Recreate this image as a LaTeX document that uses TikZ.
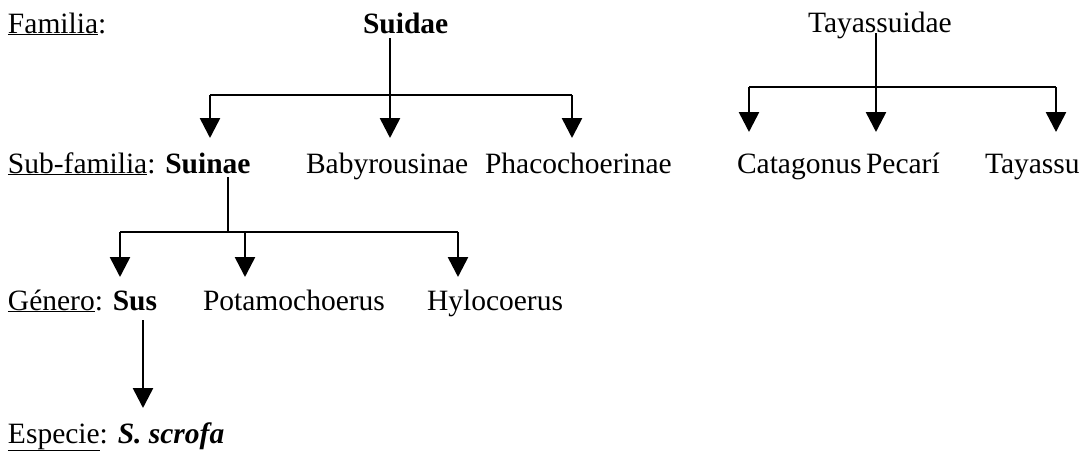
\documentclass[tikz,border=0pt]{standalone}
\usepackage{fontspec}
\setmainfont{Liberation Serif}
\usetikzlibrary{arrows.meta}
\begin{document}
\begin{tikzpicture}[x=1pt,y=-1pt,
  lbl/.style={anchor=base west,inner sep=0pt,outer sep=0pt,font=\fontsize{29.5}{35}\selectfont},
  conn/.style={line width=2.6pt,line cap=butt,line join=miter},
  arr/.style={conn,-{Triangle[width=20pt,length=20pt]}}]
\useasboundingbox (0,0) rectangle (1091,455);
% Row 1
\node[lbl] (familia) at (8,33) {\underline{Familia}:};
\node[lbl] (suidae) at (363,33) {\textbf{Suidae}};
\node[lbl] (tayassuidae) at (808,32) {Tayassuidae};
% Row 2
\node[lbl] (subfam) at (8,173) {\underline{Sub-familia}: \textbf{Suinae}};
\node[lbl] (baby) at (306,173) {Babyrousinae};
\node[lbl] (phaco) at (485,173) {Phacochoerinae};
\node[lbl] (cata) at (737,173) {Catagonus};
\node[lbl] (pecari) at (866,173) {Pecarí};
\node[lbl] (taya) at (985,173) {Tayassu};
% Row 3
\node[lbl] (genero) at (8,310) {\underline{Género}: \textbf{Sus}};
\node[lbl] (potamo) at (203,310) {Potamochoerus};
\node[lbl] (hylo) at (427,310) {Hylocoerus};
% Row 4
\node[lbl] (especie) at (8,443) {\underline{Especie}: \textbf{\textit{S. scrofa}}};
% junctions
\coordinate (s0) at (390,38);
\coordinate (sj) at (390,95);
\coordinate (sl) at (210,95);
\coordinate (sr) at (572,95);
\coordinate (t0) at (876,33);
\coordinate (tj) at (876,87);
\coordinate (tl) at (749,87);
\coordinate (tr) at (1056,87);
\coordinate (u0) at (228,177);
\coordinate (uj) at (228,232);
\coordinate (ul) at (120,232);
\coordinate (um) at (245,232);
\coordinate (ur) at (458,232);
\coordinate (g0) at (143,320);
% Suidae
\draw[conn] (s0) -- (sj);
\draw[conn] (sl) -- (sr);
\draw[arr] (sl) -- (sl |- 0,138);
\draw[arr] (sj) -- (sj |- 0,138);
\draw[arr] (sr) -- (sr |- 0,138);
% Tayassuidae
\draw[conn] (t0) -- (tj);
\draw[conn] (tl) -- (tr);
\draw[arr] (tl) -- (tl |- 0,132);
\draw[arr] (tj) -- (tj |- 0,132);
\draw[arr] (tr) -- (tr |- 0,132);
% Suinae
\draw[conn] (u0) -- (uj);
\draw[conn] (ul) -- (ur);
\draw[arr] (ul) -- (ul |- 0,277);
\draw[arr] (um) -- (um |- 0,277);
\draw[arr] (ur) -- (ur |- 0,277);
% Sus
\draw[arr] (g0) -- (g0 |- 0,408);
\end{tikzpicture}
\end{document}
